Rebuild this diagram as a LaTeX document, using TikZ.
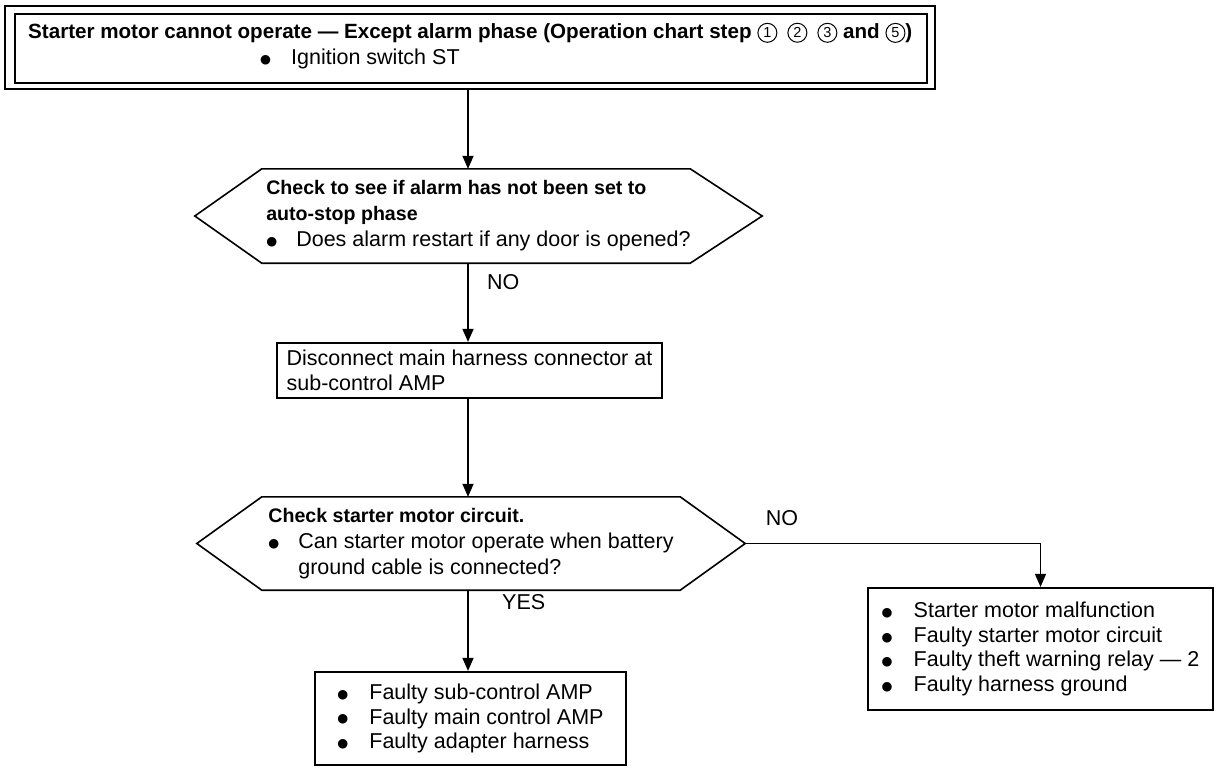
\documentclass[tikz,border=0pt]{standalone}
\usepackage{fontspec}
\setmainfont{Liberation Sans}
\newfontfamily\dv{DejaVu Sans}
\usetikzlibrary{arrows.meta,calc}
\tikzset{
  frame/.style={draw, line width=2.2pt, inner sep=0pt, align=left,
    font=\fontsize{21.5}{24.5}\selectfont},
  hexbox/.style={inner sep=0pt, align=left, font=\fontsize{21.5}{26}\selectfont},
  hexline/.style={line width=1.6pt, line join=miter},
  conn/.style={line width=1.5pt, -{Triangle[width=11pt,length=13pt]}},
  lbl/.style={font=\fontsize{21.5}{25}\selectfont, inner sep=0pt},
  cnum/.style={circle, draw, line width=1pt, inner sep=0pt, minimum size=19pt,
    anchor=base, font=\fontsize{14.5}{14.5}\selectfont\mdseries},
}
\newcommand{\hd}[1]{{\bfseries\fontsize{19.6}{26}\selectfont #1}}
\newcommand{\bdot}{\raisebox{1.2pt}{\dv\fontsize{12.5}{12.5}\selectfont ●}}
\newcommand{\bl}{\makebox[30pt][l]{\bdot}}
\newcommand{\bll}{\makebox[32pt][l]{\bdot}}
\newcommand{\cn}[1]{\raisebox{1pt}{\tikz[baseline=(c.base)]\node[cnum](c){#1};}}
\begin{document}
\begin{tikzpicture}[x=1pt,y=-1pt]
\useasboundingbox (0,0) rectangle (1219,769);
% top double frame
\node[draw, line width=1.6pt, minimum width=930pt, minimum height=83pt, inner sep=0pt] (top) at (470,47.5) {};
\node[draw, line width=2.4pt, minimum width=912pt, minimum height=69pt, inner sep=0pt] (topin) at (471,48.5) {};
\node[anchor=west, inner sep=0pt, align=left, font=\fontsize{21.5}{26}\selectfont] (toptext) at (28,46)
  {{\bfseries\fontsize{20.6}{26}\selectfont Starter motor cannot operate — Except alarm phase (Operation chart step \cn{1}\hspace{10pt}\cn{2}\hspace{10pt}\cn{3} and \cn{5})}\\
   \hspace*{232pt}\makebox[31pt][l]{\bdot}Ignition switch ST};
% decision 1
\node[hexbox, minimum width=567pt, minimum height=94pt] (d1) at (478.5,216)
  {\hd{Check to see if alarm has not been set to}\\
   \hd{auto-stop phase}\\
   \bl Does alarm restart if any door is opened?};
\draw[hexline] (d1.west) -- ($(d1.north west)+(67,0)$) -- ($(d1.north east)+(-72,0)$) -- (d1.east)
  -- ($(d1.south east)+(-72,0)$) -- ($(d1.south west)+(67,0)$) -- cycle;
% box 2
\node[frame, minimum width=385pt, minimum height=55pt] (b2) at (469.5,370.5)
  {Disconnect main harness connector at\\ sub-control AMP};
% decision 2
\node[hexbox, minimum width=548pt, minimum height=93pt] (d2) at (471,543.5)
  {\hd{Check starter motor circuit.}\\
   \bl Can starter motor operate when battery\\
   \makebox[30pt][l]{}ground cable is connected?};
\draw[hexline] (d2.west) -- ($(d2.north west)+(65,0)$) -- ($(d2.north east)+(-65,0)$) -- (d2.east)
  -- ($(d2.south east)+(-65,0)$) -- ($(d2.south west)+(65,0)$) -- cycle;
% result boxes
\node[frame, minimum width=345pt, minimum height=122pt] (rb) at (1040.5,649)
  {\bll Starter motor malfunction\\
   \bll Faulty starter motor circuit\\
   \bll Faulty theft warning relay — 2\\
   \bll Faulty harness ground};
\node[frame, minimum width=311pt, minimum height=93pt] (b3) at (470.5,718.5)
  {\bll Faulty sub-control AMP\\
   \bll Faulty main control AMP\\
   \bll Faulty adapter harness};
% connectors
\coordinate (ax) at (468,0);
\draw[conn] (top.south -| ax) -- (d1.north -| ax);
\draw[conn] (d1.south -| ax) -- (b2.north -| ax);
\draw[conn] (b2.south -| ax) -- (d2.north -| ax);
\draw[conn] (d2.south -| ax) -- (b3.north -| ax);
\draw[conn] (d2.east) -| (rb.north);
% labels
\node[lbl, anchor=west] (no1) at (487,282) {NO};
\node[lbl] (no2) at (782,518) {NO};
\node[lbl, anchor=west] (yes) at (502,602) {YES};
\end{tikzpicture}
\end{document}
